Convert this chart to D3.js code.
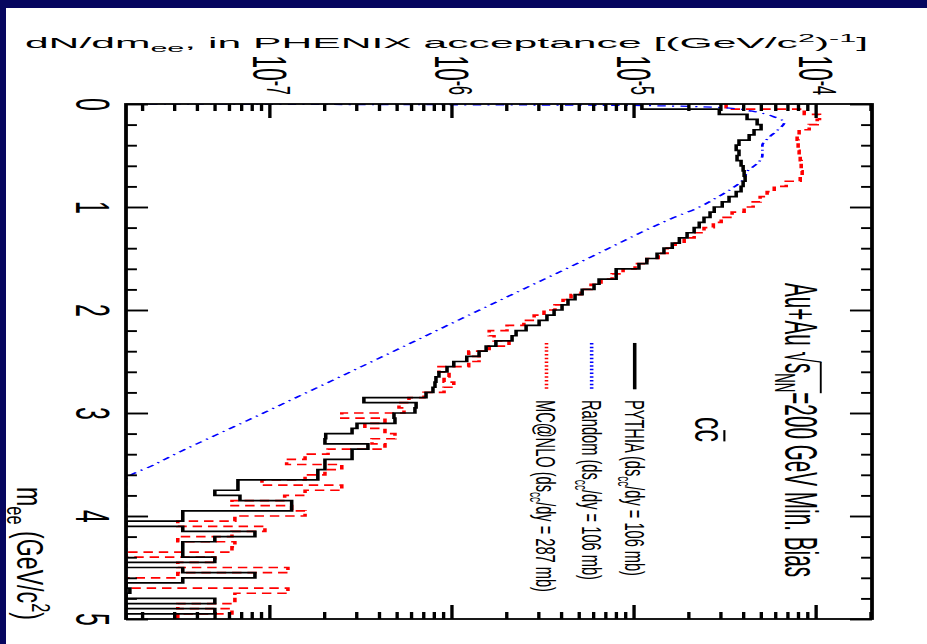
<!DOCTYPE html>
<html>
<head>
<meta charset="utf-8">
<script src="https://cdn.jsdelivr.net/npm/d3@7"></script>
<style>
  html, body { margin: 0; padding: 0; background: #06065f; }
  svg { display: block; }
  text { font-family: "Liberation Sans", Arial, Helvetica, sans-serif; fill: #000; }
</style>
</head>
<body>
<svg id="chart" width="927" height="644"></svg>
<script>
// ---- data ---------------------------------------------------------------
// 100 mass bins of 0.05 GeV/c^2 between 0 and 5 GeV/c^2
const massBinEdges = d3.range(0, 5.0001, 0.05);

// PYTHIA (dsigma_cc/dy = 106 mb), dN/dm_ee per bin; 0 = empty bin
const pythia = [
  1.09e-5, 2.90e-5, 4.12e-5, 4.68e-5, 4.92e-5, 4.50e-5, 4.23e-5, 3.72e-5, 3.59e-5, 3.72e-5,
  3.63e-5, 3.82e-5, 3.92e-5, 3.97e-5, 4.02e-5, 3.92e-5, 3.82e-5, 3.59e-5, 3.28e-5, 3.01e-5,
  2.72e-5, 2.58e-5, 2.39e-5, 2.25e-5, 2.11e-5, 1.93e-5, 1.75e-5, 1.60e-5, 1.44e-5, 1.32e-5,
  1.16e-5, 1.05e-5, 7.87e-6, 7.87e-6, 6.34e-6, 5.95e-6, 5.12e-6, 4.68e-6, 4.28e-6, 3.97e-6,
  3.59e-6, 3.28e-6, 2.97e-6, 2.52e-6, 2.22e-6, 2.11e-6, 1.72e-6, 1.52e-6, 1.39e-6, 1.19e-6,
  1.01e-6, 9.27e-7, 8.37e-7, 8.06e-7, 7.96e-7, 7.76e-7, 7.11e-7, 3.24e-7, 6.27e-7, 6.18e-7,
  4.74e-7, 4.80e-7, 2.97e-7, 2.79e-7, 2.00e-7, 1.98e-7, 3.41e-7, 2.79e-7, 2.79e-7, 1.98e-7,
  1.98e-7, 1.81e-7, 1.81e-7, 6.59e-8, 6.59e-8, 4.92e-8, 6.76e-8, 1.30e-7, 1.30e-7, 3.28e-8,
  3.28e-8, 0, 3.28e-8, 8.17e-8, 4.92e-8, 3.28e-8, 3.28e-8, 3.28e-8, 4.92e-8, 0,
  3.28e-8, 8.17e-8, 3.28e-8, 0, 1.68e-8, 0, 4.92e-8, 0, 4.92e-8, 0
];

// MC@NLO (dsigma_cc/dy = 287 mb)
const mcatnlo = [
  3.16e-5, 8.49e-5, 1.03e-4, 1.00e-4, 9.04e-5, 7.96e-5, 7.76e-5, 7.86e-5, 7.86e-5, 7.96e-5,
  8.07e-5, 8.17e-5, 8.17e-5, 8.27e-5, 8.07e-5, 6.76e-5, 5.81e-5, 5.31e-5, 4.86e-5, 4.45e-5,
  3.97e-5, 3.41e-5, 2.97e-5, 2.69e-5, 2.39e-5, 2.11e-5, 1.86e-5, 1.66e-5, 1.50e-5, 1.34e-5,
  1.16e-5, 1.00e-5, 8.59e-6, 7.48e-6, 6.50e-6, 5.73e-6, 5.05e-6, 4.45e-6, 4.02e-6, 3.63e-6,
  3.16e-6, 2.79e-6, 2.45e-6, 1.98e-6, 1.58e-6, 1.68e-6, 2.03e-6, 1.58e-6, 1.22e-6, 1.39e-6,
  1.22e-6, 8.37e-7, 9.51e-7, 8.93e-7, 1.01e-6, 8.93e-7, 6.93e-7, 5.73e-7, 5.05e-7, 5.38e-7,
  2.45e-7, 4.23e-7, 3.28e-7, 4.23e-7, 4.80e-7, 3.59e-7, 4.23e-7, 2.06e-7, 1.54e-7, 1.22e-7,
  2.45e-7, 1.98e-7, 1.54e-7, 8.93e-8, 2.45e-7, 1.54e-7, 1.19e-7, 6.11e-8, 1.30e-7, 1.54e-7,
  6.34e-8, 3.08e-8, 9.27e-8, 6.11e-8, 3.08e-8, 6.34e-8, 6.11e-8, 0, 4.92e-8, 3.08e-8,
  1.24e-7, 3.08e-8, 0, 0, 1.24e-7, 6.34e-8, 6.34e-8, 3.08e-8, 6.11e-8, 3.08e-8
];

// Random correlation (dsigma_cc/dy = 106 mb), smooth curve
const randomMass  = [0, 0.015, 0.04, 0.07, 0.12, 0.18, 0.26, 0.33, 0.40, 0.50, 0.59, 0.64,
                     0.74, 0.82, 0.91, 1.01, 1.09, 1.5, 2.0, 2.5, 3.0, 3.5, 3.65, 4.0, 4.5, 5.0];
const randomValue = [0, 1.1e-5, 3.3e-5, 4.4e-5, 5.7e-5, 6.6e-5, 6.0e-5, 5.4e-5, 5.0e-5, 5.0e-5,
                     4.6e-5, 4.2e-5, 3.9e-5, 3.4e-5, 2.8e-5, 2.2e-5, 1.7e-5, 5.5e-6, 1.4e-6,
                     3.6e-7, 9.1e-8, 2.3e-8, 1.6e-8, 6.0e-9, 1.5e-9, 4.0e-10];

// axis ticks
const massTicks = [0, 1, 2, 3, 4, 5];
const massMinorTicks = [0.2, 0.4, 0.6, 0.8, 1.2, 1.4, 1.6, 1.8, 2.2, 2.4, 2.6, 2.8,
                        3.2, 3.4, 3.6, 3.8, 4.2, 4.4, 4.6, 4.8];
const decadeTicks = [1e-7, 1e-6, 1e-5, 1e-4];
const yDomain = [1.6e-8, 2e-4];

// ---- layout ---------------------------------------------------------------
const W = 927, H = 644;
const frame = { left: 126, right: 872, top: 104, bottom: 619 };
const kx = 2.1;                                   // horizontal stretch of the drawing
const Wu = frame.bottom - frame.top;              // mass axis length
const Hv = (frame.right - frame.left) / kx;       // value axis length (before stretch)
const FONT = '"Liberation Sans", Arial, Helvetica, sans-serif';

const svg = d3.select('#chart');
svg.append('rect').attr('width', W).attr('height', H).attr('fill', '#06065f');
svg.append('rect').attr('x', 6).attr('y', 8).attr('width', W - 6).attr('height', H - 8).attr('fill', '#ffffff');

// plot drawn as a standard histogram frame, turned a quarter turn clockwise
const g = svg.append('g')
  .attr('transform', `translate(${frame.right},${frame.top}) scale(${kx},1) rotate(90)`);

const x = d3.scaleLinear().domain([0, 5]).range([0, Wu]);
const y = d3.scaleLog().domain(yDomain).range([Hv, 0]).clamp(true);
const yv = v => (v > 0 ? y(v) : Hv);

g.append('clipPath').attr('id', 'plotclip')
  .append('rect').attr('x', 0).attr('y', 0).attr('width', Wu).attr('height', Hv);

// ---- curves -----------------------------------------------------------------
const step = d3.line().curve(d3.curveStepAfter).x(d => x(d[0])).y(d => yv(d[1]));
const histPoints = vals => vals.map((v, i) => [massBinEdges[i], v]).concat([[massBinEdges[vals.length], vals[vals.length - 1]]]);

const curves = g.append('g').attr('clip-path', 'url(#plotclip)').attr('fill', 'none');

curves.append('path')
  .attr('d', step(histPoints(mcatnlo)))
  .attr('stroke', '#ff0000').attr('stroke-width', 1.7)
  .attr('stroke-dasharray', '4.5,2.8');

curves.append('path')
  .attr('d', d3.line().curve(d3.curveMonotoneX)
    .x((d, i) => x(randomMass[i])).y(d => yv(d))(randomValue))
  .attr('stroke', '#0000ff').attr('stroke-width', 1.3)
  .attr('stroke-dasharray', '4,3,1,3');

curves.append('path')
  .attr('d', step(histPoints(pythia)))
  .attr('stroke', '#000000').attr('stroke-width', 1.7);

// ---- axes -------------------------------------------------------------------
function tidy(sel, w) {
  sel.select('.domain').remove();
  sel.selectAll('.tick line').attr('stroke', '#000').attr('stroke-width', w);
  sel.attr('font-family', FONT);
}

// mass axis (left side of the page) and its mirror
g.append('g').attr('transform', `translate(0,${Hv})`)
  .call(d3.axisBottom(x).tickValues(massMinorTicks).tickSize(-5.2).tickFormat(''))
  .call(tidy, 1.9);
const massAxis = g.append('g').attr('transform', `translate(0,${Hv})`)
  .call(d3.axisBottom(x).tickValues(massTicks).tickSize(-10.5).tickPadding(7.7).tickFormat(d3.format('d')))
  .call(tidy, 1.9);
massAxis.attr('font-size', 23);
massAxis.selectAll('.tick text').attr('fill', '#000');

g.append('g')
  .call(d3.axisTop(x).tickValues(massMinorTicks).tickSize(-5.2).tickFormat(''))
  .call(tidy, 1.9);
g.append('g')
  .call(d3.axisTop(x).tickValues(massTicks).tickSize(-10.5).tickFormat(''))
  .call(tidy, 1.9);

// value axis (top of the page) and its mirror
const minorDecade = [];
[1e-8, 1e-7, 1e-6, 1e-5, 1e-4].forEach(d => [2, 3, 4, 5, 6, 7, 8, 9].forEach(k => {
  const v = d * k; if (v >= yDomain[0] && v <= yDomain[1]) minorDecade.push(v);
}));

g.append('g')
  .call(d3.axisLeft(y).tickValues(minorDecade).tickSize(-7).tickFormat(''))
  .call(tidy, 1.6);
const valueAxis = g.append('g')
  .call(d3.axisLeft(y).tickValues(decadeTicks).tickSize(-14).tickPadding(9).tickFormat(''))
  .call(tidy, 1.6);
valueAxis.selectAll('.tick text')
  .attr('font-size', 23).attr('dy', 8).attr('fill', '#000')
  .each(function (d) {
    const t = d3.select(this);
    t.append('tspan').text('10');
    t.append('tspan').attr('font-size', 16).attr('dy', -6.5).text(String(Math.round(Math.log10(d))));
  });

g.append('g').attr('transform', `translate(${Wu},0)`)
  .call(d3.axisRight(y).tickValues(minorDecade).tickSize(-7).tickFormat(''))
  .call(tidy, 1.6);
g.append('g').attr('transform', `translate(${Wu},0)`)
  .call(d3.axisRight(y).tickValues(decadeTicks).tickSize(-14).tickFormat(''))
  .call(tidy, 1.6);

// frame
g.append('rect').attr('x', 0).attr('y', 0).attr('width', Wu).attr('height', Hv)
  .attr('fill', 'none').attr('stroke', '#000').attr('stroke-width', 1.8);

// ---- texts --------------------------------------------------------------------
// parts: [{t, s (font size), dy}] ; the whole text is squeezed/stretched to `len`
function label(u, v, rot, anchor, size, parts, len) {
  const wrap = g.append('g');
  const t = wrap.append('text').attr('font-size', size).attr('text-anchor', anchor);
  parts.forEach(p => {
    const ts = t.append('tspan').text(p.t);
    if (p.s) ts.attr('font-size', p.s);
    if (p.dy) ts.attr('dy', p.dy);
  });
  const natural = t.node().getComputedTextLength();
  const sx = len ? len / natural : 1;
  wrap.attr('transform', `translate(${u},${v}) rotate(${rot}) scale(${sx},1)`);
  return { wrap, t };
}

// value axis title
label(-56, 1.9, -90, 'end', 15.4, [
  { t: 'dN/dm' }, { t: 'ee', s: 11, dy: 4 }, { t: ', in PHENIX acceptance [(GeV/c', dy: -4 },
  { t: '2', s: 11, dy: -6 }, { t: ')', dy: 6 }, { t: '-1', s: 11, dy: -6 }, { t: ']', dy: 6 }
], 843 / kx);

// mass axis title
label(516, 407, 0, 'end', 17.7, [
  { t: 'm' }, { t: 'ee', s: 12.5, dy: 5 }, { t: ' (GeV/c', dy: -5 },
  { t: '2', s: 12.5, dy: -7 }, { t: ')', dy: 7 }
], 133);

// collision system
const sys = label(179, 41.4, 0, 'start', 22, [
  { t: 'Au+Au ' }, { t: '\u221A' }, { t: 's' }, { t: 'NN', s: 14, dy: 5 },
  { t: '=200 GeV Min. Bias', dy: -5 }
], 294);
{
  const n = sys.t.node();
  const x0 = n.getStartPositionOfChar(7).x;
  const x1 = n.getEndPositionOfChar(9).x;
  sys.wrap.append('line').attr('x1', x0 - 1).attr('x2', x1 + 1).attr('y1', -17).attr('y2', -17)
    .attr('stroke', '#000').attr('stroke-width', 0.9);
}

// c c-bar
const ccbar = label(313, 84.3, 0, 'start', 20, [{ t: 'c' }, { t: 'c' }], 25);
{
  const n = ccbar.t.node();
  const x0 = n.getStartPositionOfChar(1).x;
  const x1 = n.getEndPositionOfChar(1).x;
  ccbar.wrap.append('line').attr('x1', x0 + 0.5).attr('x2', x1 - 0.5).attr('y1', -14).attr('y2', -14)
    .attr('stroke', '#000').attr('stroke-width', 1);
}

// legend: sample line from m = 2.32 to 2.77 (page rows 343-389), text to its right
const legend = [
  { name: 'PYTHIA (ds', rest: '/dy = 106 mb)', color: '#000000', dash: null, v: 113, len: 176 },
  { name: 'Random (ds', rest: '/dy = 106 mb)', color: '#0000ff', dash: '1.5,2.2', v: 133.5, len: 180 },
  { name: 'MC@NLO (ds', rest: '/dy = 287 mb)', color: '#ff0000', dash: '1.5,2.2', v: 155, len: 192 }
];
legend.forEach(e => {
  g.append('line').attr('x1', x(2.32)).attr('x2', x(2.77)).attr('y1', e.v).attr('y2', e.v)
    .attr('stroke', e.color).attr('stroke-width', 1.7)
    .attr('stroke-dasharray', e.dash);
  label(296, e.v + 4.8, 0, 'start', 13, [
    { t: e.name }, { t: 'cc', s: 9, dy: 3 }, { t: e.rest, dy: -3 }
  ], e.len);
});
</script>
</body>
</html>
